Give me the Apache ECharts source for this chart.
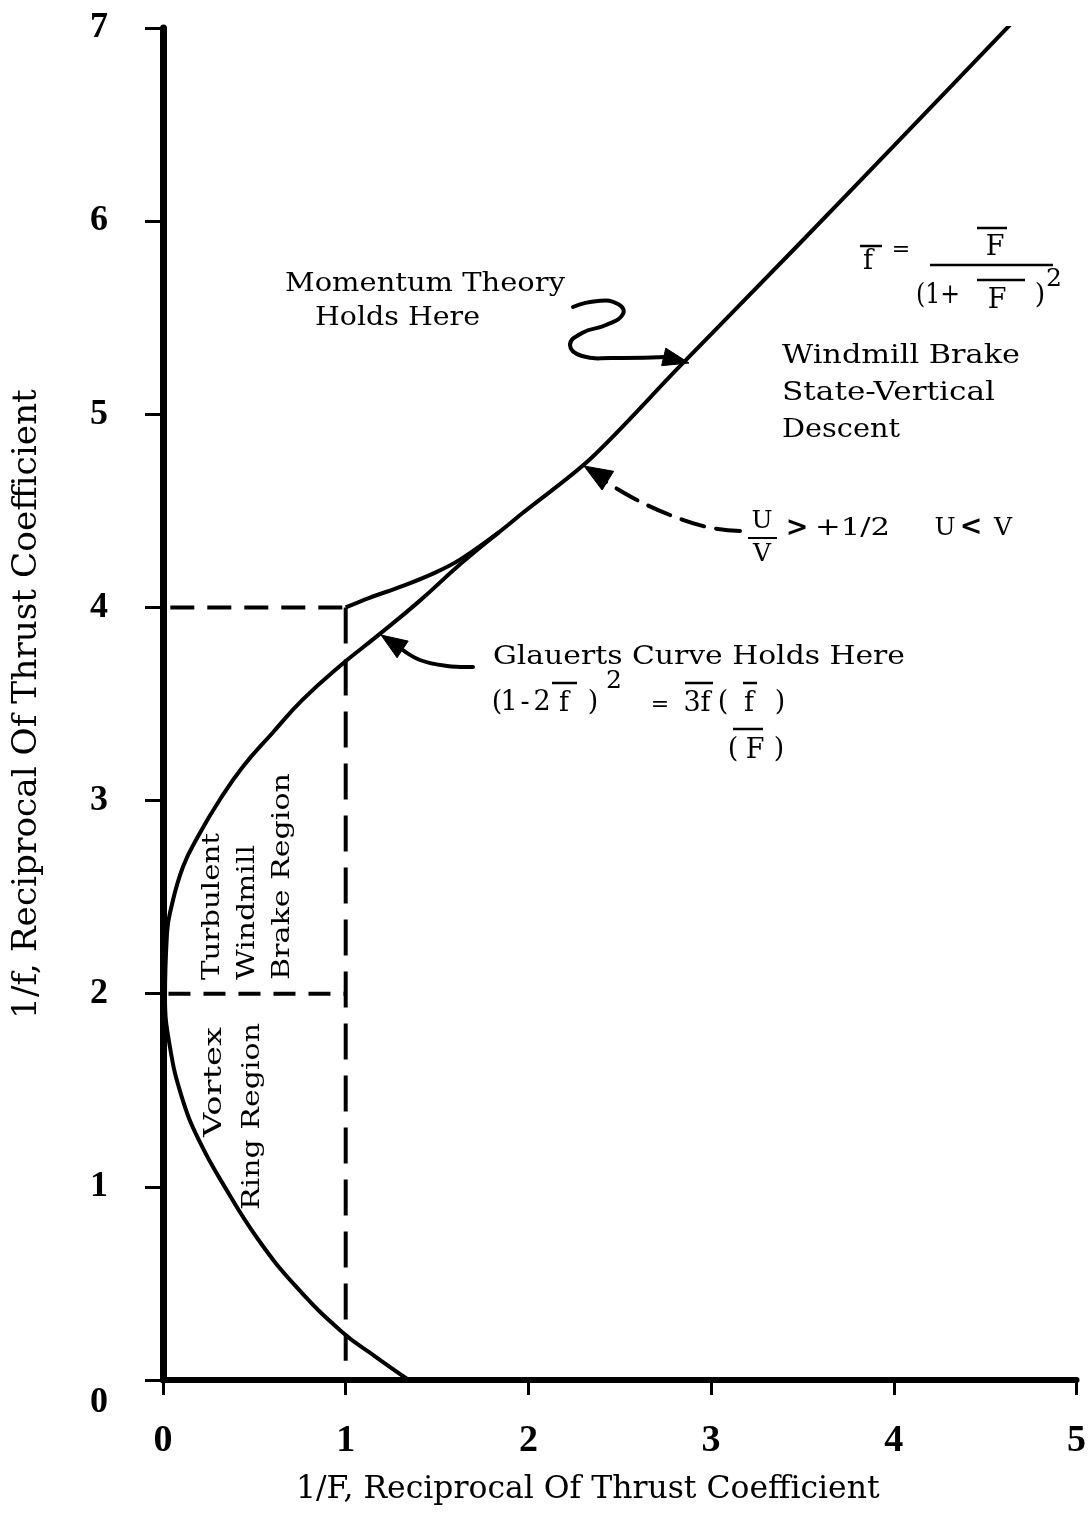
<!DOCTYPE html>
<html><head><meta charset="utf-8">
<script src="https://cdn.jsdelivr.net/npm/echarts@6/dist/echarts.min.js"></script>
<style>html,body{margin:0;padding:0;background:#fff}#c{width:1089px;height:1533px}</style>
</head><body><div id="c"></div>
<script>
// ---- data ----
const xTicks = [0, 1, 2, 3, 4, 5];
const yTicks = [0, 1, 2, 3, 4, 5, 6, 7];
// Vortex ring region + Glauert curve (one continuous curve, ordered along the curve)
const glauertCurve = [
  [1.345, 0.0], [1.166, 0.119], [0.98, 0.249], [0.73, 0.482], [0.523, 0.725], [0.338, 1.0],
  [0.196, 1.243], [0.103, 1.465], [0.038, 1.724], [0.011, 1.983],
  [0.022, 2.314], [0.038, 2.418], [0.109, 2.656], [0.202, 2.832], [0.31, 3.003], [0.436, 3.174],
  [0.599, 3.35], [0.763, 3.521], [0.975, 3.702], [1.17, 3.85], [1.4, 4.03], [1.634, 4.23], [1.84, 4.39]
];
// Momentum theory curve (windmill brake state)
const momentumCurve = [
  [1.0, 4.0], [1.13, 4.05], [1.31, 4.11], [1.49, 4.18], [1.63, 4.25], [1.84, 4.39],
  [1.97, 4.49], [2.34, 4.77], [2.82, 5.24], [3.47, 5.87], [4.0, 6.39], [4.65, 7.03]
];
// Dashed boundaries
const dashTop = [[0.04, 4], [1, 4]];
const dashMid = [[0.03, 2], [1, 2]];
const dashVert = [[1, 4], [1, 0.1]];

// ---- text helpers ----
const SERIF = '"DejaVu Serif", "Liberation Serif", serif';
const mctx = document.createElement('canvas').getContext('2d');
function measure(s, size, bold) {
  mctx.font = (bold ? 'bold ' : '') + size + 'px ' + SERIF;
  return mctx.measureText(s).width;
}
function T(s, x, y, size, width, o) {
  o = o || {};
  const sx = width ? width / measure(s, size, o.bold) : 1;
  return {
    type: 'text', x: x, y: y, rotation: o.rot || 0, scaleX: sx, z: 100,
    style: {
      text: s, fill: '#000',
      font: (o.bold ? 'bold ' : '') + size + 'px ' + SERIF,
      align: o.align || 'left', verticalAlign: o.va || 'middle'
    }
  };
}
function C(s, x, y, size, o) { return T(s, x, y, size, 0, Object.assign({ align: 'center' }, o || {})); }
function L(x1, y1, x2, y2, w) {
  return { type: 'line', z: 100, shape: { x1, y1, x2, y2 }, style: { stroke: '#000', lineWidth: w || 2 } };
}
function head(tip, from, len, half) {
  const dx = tip[0] - from[0], dy = tip[1] - from[1];
  const d = Math.hypot(dx, dy), ux = dx / d, uy = dy / d;
  const bx = tip[0] - ux * len, by = tip[1] - uy * len;
  return { type: 'polygon', z: 100, shape: { points: [tip, [bx - uy * half, by + ux * half], [bx + uy * half, by - ux * half]] },
    style: { fill: '#000', stroke: '#000', lineWidth: 1 } };
}
function P(points, dash, smooth) {
  return { type: 'polyline', z: 100, shape: { points, smooth: smooth == null ? 0.4 : smooth },
    style: { stroke: '#000', lineWidth: 4, fill: null, lineDash: dash || null, lineCap: 'round' } };
}

const xName = '1/F, Reciprocal Of Thrust Coefficient';
const yName = '1/f, Reciprocal Of Thrust Coefficient';
const xNameSize = 24 * 584 / measure(xName, 24);
const yNameSize = 24 * 630 / measure(yName, 24);
const TICKFONT = '"Liberation Serif", "Times New Roman", serif';

const chart = echarts.init(document.getElementById('c'), null, { renderer: 'canvas' });
const lineBase = { type: 'line', showSymbol: false, symbol: 'none', animation: false, silent: true };
const option = {
  backgroundColor: '#fff',
  animation: false,
  grid: { left: 163, right: 7, top: 28, bottom: 153, containLabel: false },
  xAxis: {
    type: 'value', min: xTicks[0], max: xTicks[xTicks.length - 1], interval: 1,
    axisLine: { show: true, onZero: false, lineStyle: { color: '#000', width: 6 } },
    axisTick: { show: true, length: 15, lineStyle: { color: '#000', width: 3 } },
    axisLabel: { margin: 42, color: '#000', fontSize: 38, fontWeight: 'bold', fontFamily: TICKFONT,
      formatter: v => String(v) },
    splitLine: { show: false },
    name: xName, nameLocation: 'middle', nameGap: 94,
    nameTextStyle: { color: '#000', fontSize: xNameSize, fontFamily: SERIF, padding: [0, 64, 0, 0] }
  },
  yAxis: {
    type: 'value', min: yTicks[0], max: yTicks[yTicks.length - 1], interval: 1,
    axisLine: { show: true, onZero: false, lineStyle: { color: '#000', width: 7 } },
    axisTick: { show: true, length: 18, lineStyle: { color: '#000', width: 3 } },
    axisLabel: { margin: 55, color: '#000', fontSize: 36, fontWeight: 'bold', fontFamily: TICKFONT,
      formatter: v => v === 0 ? '{z|0}' : String(v),
      rich: { z: { padding: [46, 0, 0, 0], fontSize: 36, fontWeight: 'bold', fontFamily: TICKFONT, color: '#000' } } },
    splitLine: { show: false },
    name: yName, nameLocation: 'middle', nameGap: 119, nameRotate: 90,
    nameTextStyle: { color: '#000', fontSize: yNameSize, fontFamily: SERIF }
  },
  series: [
    Object.assign({}, lineBase, { name: 'Glauert / Vortex Ring', data: glauertCurve, smooth: 0.45,
      lineStyle: { color: '#000', width: 4 } }),
    Object.assign({}, lineBase, { name: 'Momentum Theory', data: momentumCurve, smooth: 0.3,
      lineStyle: { color: '#000', width: 4 } }),
    Object.assign({}, lineBase, { name: 'dash4', data: dashTop, lineStyle: { color: '#000', width: 4, type: [24, 13] } }),
    Object.assign({}, lineBase, { name: 'dash2', data: dashMid, lineStyle: { color: '#000', width: 4, type: [22, 13] } }),
    Object.assign({}, lineBase, { name: 'dashV', data: dashVert, lineStyle: { color: '#000', width: 4, type: [36, 16] } })
  ]
};
chart.setOption(option);

// ---- annotations (layout only) ----
const g = [];
// Momentum Theory label + squiggle arrow
g.push(T('Momentum Theory', 285, 284, 26, 280));
g.push(T('Holds Here', 315, 318, 26, 165));
g.push(P([[573, 307], [598, 301], [618, 304], [623, 314], [606, 325], [582, 333], [570, 345], [582, 356], [612, 358], [666, 357]], null, 0.5));
g.push(head([689, 363], [660, 356], 26, 9));
// Windmill brake text
g.push(T('Windmill Brake', 782, 356, 26, 238));
g.push(T('State-Vertical', 782, 393, 26, 213));
g.push(T('Descent', 782, 430, 26, 118));
// f = F/(1+F)^2
g.push(C('f', 868, 262, 27));
g.push(L(860, 246, 882, 246, 2.5));
g.push(C('=', 901, 250, 22));
g.push(C('F', 995, 248, 27));
g.push(L(977, 228, 1007, 228, 2.5));
g.push(L(930, 265, 1053, 265, 2.5));
g.push(T('(1+', 916, 296, 27, 44));
g.push(C('F', 997, 301, 27));
g.push(L(977, 280, 1025, 280, 2.5));
g.push(C(')', 1040, 296, 27));
g.push(C('2', 1054, 279, 25));
// U/V dashed arrow
g.push(P([[740, 531], [707, 527], [670, 515], [637, 500], [606, 482]], [24, 12], 0.4));
g.push(head([584, 466], [610, 482], 28, 11));
g.push(C('U', 762, 521, 25));
g.push(L(748, 538, 777, 538, 2));
g.push(C('V', 762, 554, 25));
g.push(C('>', 797, 529, 27, { bold: true }));
g.push(T('+1/2', 815, 528, 25, 75));
g.push(C('U', 945, 528, 25));
g.push(C('<', 971, 528, 27, { bold: true }));
g.push(C('V', 1003, 528, 25));
// Glauert arrow and formula
g.push(P([[473, 667], [447, 666], [420, 660], [400, 648]], null, 0.4));
g.push(head([381, 635], [405, 651], 26, 10));
g.push(T('Glauerts Curve Holds Here', 493, 657, 26, 412));
const fy = 703, fs = 27;
g.push(C('(', 497, fy, fs));
g.push(C('1', 509, fy, fs));
g.push(C('-', 525, fy, fs));
g.push(C('2', 542, fy, fs));
g.push(C('f', 564, fy + 1, fs));
g.push(L(552, 683, 577, 683, 2.5));
g.push(C(')', 593, fy, fs));
g.push(C('2', 614, 681, 25));
g.push(C('=', 660, fy + 2, 22));
g.push(C('3f', 697, fy + 1, fs));
g.push(L(685, 683, 713, 683, 2.5));
g.push(C('(', 723, fy, fs));
g.push(C('f', 749, fy + 1, fs));
g.push(L(743, 683, 757, 683, 2.5));
g.push(C(')', 780, fy, fs));
g.push(L(733, 729, 763, 729, 2.5));
g.push(C('(', 733, 750, fs));
g.push(C('F', 755, 751, fs));
g.push(C(')', 779, 750, fs));
// Rotated region labels
const R = Math.PI / 2;
g.push(T('Turbulent', 212, 980, 25, 147, { rot: R }));
g.push(T('Windmill', 247, 980, 25, 135, { rot: R }));
g.push(T('Brake Region', 282, 980, 25, 207, { rot: R }));
g.push(T('Vortex', 214, 1137, 25, 110, { rot: R }));
g.push(T('Ring Region', 252, 1210, 25, 187, { rot: R }));

chart.setOption({ graphic: { elements: g } });
</script>
</body></html>
